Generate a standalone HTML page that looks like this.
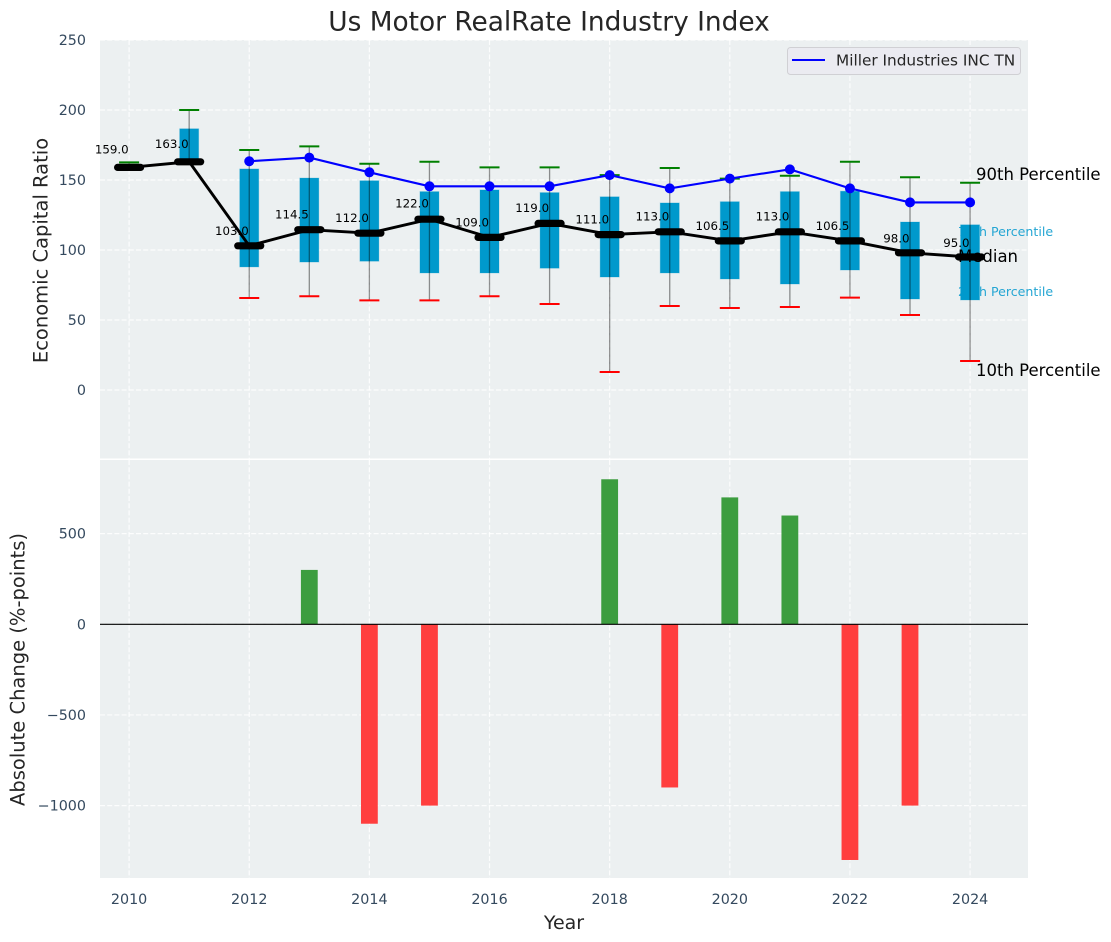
<!DOCTYPE html>
<html lang="en">
<head>
<meta charset="utf-8">
<title>Us Motor RealRate Industry Index</title>
<style>
html,body{margin:0;padding:0;background:#fff;width:1111px;height:942px;overflow:hidden}
svg{display:block}
text{font-family:"DejaVu Sans","Liberation Sans",sans-serif}
</style>
</head>
<body>
<svg id="chart" xmlns="http://www.w3.org/2000/svg" width="1111" height="942" viewBox="0 0 1111 942">
  <rect x="0" y="0" width="1111" height="942" fill="#ffffff"/>
  <rect x="100" y="40" width="928" height="418.5" fill="#ecf0f1"/>
  <rect x="100" y="460" width="928" height="418" fill="#ecf0f1"/>
  <g id="grid"></g>
  <g id="annotations-under">
    <text x="958" y="236" font-size="12.6" fill="#25a6d3">75th Percentile</text>
    <text x="958" y="296" font-size="12.6" fill="#25a6d3">25th Percentile</text>
  </g>
  <g id="boxes"></g>
  <g id="annotations-over">
    <text x="976" y="180" font-size="16.5" fill="#000">90th Percentile</text>
    <text x="976" y="376" font-size="16.5" fill="#000">10th Percentile</text>
    <text x="958" y="262" font-size="16.5" fill="#000">Median</text>
  </g>
  <g id="whiskers"></g>
  <g id="company"></g>
  <g id="median"></g>
  <g id="bars"></g>
  <g id="ticks"></g>

  <text x="549" y="30.5" font-size="26.4" fill="#262626" text-anchor="middle">Us Motor RealRate Industry Index</text>
  <text x="564" y="929" font-size="19" fill="#262626" text-anchor="middle">Year</text>
  <text transform="translate(47.5,250.5) rotate(-90)" font-size="19.5" fill="#262626" text-anchor="middle">Economic Capital Ratio</text>
  <text transform="translate(24.5,669.5) rotate(-90)" font-size="19.5" fill="#262626" text-anchor="middle">Absolute Change (%-points)</text>

  <g>
    <rect x="787.5" y="47.5" width="233" height="27" rx="3" fill="#ebebf1" stroke="#d0d0d4" stroke-width="1"/>
    <line x1="792" y1="60" x2="825" y2="60" stroke="#0000ff" stroke-width="2"/>
    <text x="836" y="65.5" font-size="15.3" fill="#262626">Miller Industries INC TN</text>
  </g>
</svg>
<script>
const years = [2010,2011,2012,2013,2014,2015,2016,2017,2018,2019,2020,2021,2022,2023,2024];
const medians = [159,163,103,114.5,112,122,109,119,111,113,106.5,113,106.5,98,95];
const p90 = [162.6,200,171.4,174,161.6,163,159,159,153.5,158.6,151,153,163,152,148];
const p75 = [160,186.6,157.9,151.4,149.5,141.7,142.9,141,138,133.6,134.5,141.7,142,120,118];
const p25 = [158,163,87.9,91.4,92,83.6,83.6,87,80.7,83.6,79.3,75.7,85.7,65,64.3];
const p10 = [159,163,65.7,67,64,64,67,61.4,12.9,60,58.6,59.3,66,53.6,20.7];
const company = [null,null,163.4,166,155.5,145.5,145.5,145.5,153.5,144,151,157.6,144,134,134];
const changes = [null,null,null,300,-1100,-1000,null,null,800,-900,700,600,-1300,-1000,null];
const xTickLabels = [2010,2012,2014,2016,2018,2020,2022,2024];
const topTickLabels = [0,50,100,150,200,250];
const bottomTickLabels = [-1000,-500,0,500];

const NS = 'http://www.w3.org/2000/svg';
const xScale = v => 129.1 + 60.07 * (v - 2010);
const yTop = v => 390 - 1.4 * v;
const yBottom = v => 624.3 - 0.1813 * v;
const medianLabelY = v => yTop(v) - 1.4 * (6 + 0.04 * v) + 3.5;

function make(parentId, tag, attrs, content) {
  const node = document.createElementNS(NS, tag);
  for (const k in attrs) node.setAttribute(k, attrs[k]);
  if (content !== undefined) node.textContent = content;
  document.getElementById(parentId).appendChild(node);
  return node;
}
const gridStyle = {stroke:'#ffffff','stroke-width':1.2,'stroke-dasharray':'5 2.2','stroke-opacity':0.85};

xTickLabels.forEach(t => {
  const x = xScale(t);
  const a = make('grid','line',{x1:x,x2:x,y1:40,y2:458.5,...gridStyle});
  
  
  const b = make('grid','line',{x1:x,x2:x,y1:460,y2:878,...gridStyle});
  
  
  const l = make('ticks','text',{x:x,y:904,'font-size':14.3,fill:'#34495e','text-anchor':'middle'},String(t));
  
  
});
topTickLabels.forEach(t => {
  const y = yTop(t);
  const a = make('grid','line',{x1:100,x2:1028,y1:y,y2:y,...gridStyle});
  
  
  const l = make('ticks','text',{x:86,y:y+5,'font-size':14.3,fill:'#34495e','text-anchor':'end'},String(t));
  
  
});
bottomTickLabels.forEach(t => {
  const y = yBottom(t);
  const a = make('grid','line',{x1:100,x2:1028,y1:y,y2:y,...gridStyle});
  
  
  const l = make('ticks','text',{x:86,y:y+5,'font-size':14.3,fill:'#34495e','text-anchor':'end'},String(t).replace('-','\u2212'));
  
  
});

years.forEach((yr, i) => {
  const x = xScale(yr);
  const box = make('boxes','rect',{x:x-9.5,y:yTop(p75[i]),width:19,height:yTop(p25[i])-yTop(p75[i]),fill:'#0099cc',stroke:'#0099cc','stroke-opacity':0.25,'stroke-width':1});
  
  
  const w = make('whiskers','line',{x1:x,x2:x,y1:yTop(p90[i]),y2:yTop(p10[i]),stroke:'#000','stroke-opacity':0.42,'stroke-width':1.3});
  
  
  const hi = make('whiskers','line',{x1:x-10,x2:x+10,y1:yTop(p90[i]),y2:yTop(p90[i]),stroke:'#008000','stroke-width':2});
  
  
  const lo = make('whiskers','line',{x1:x-10,x2:x+10,y1:yTop(p10[i]),y2:yTop(p10[i]),stroke:'#ff0000','stroke-width':2});
  
  
});

const companyPoints = years.map((yr,i) => company[i] === null ? null : [xScale(yr), yTop(company[i])]).filter(Boolean);
const companyLine = make('company','polyline',{points:companyPoints.map(p=>p.join(',')).join(' '),fill:'none',stroke:'#0000ff','stroke-width':2.1});


companyPoints.forEach(p => {
  const c = make('company','circle',{cx:p[0],cy:p[1],r:5,fill:'#0000ff'});
  
  
});

const medianLine = make('median','polyline',{points:years.map((yr,i)=>xScale(yr)+','+yTop(medians[i])).join(' '),fill:'none',stroke:'#000','stroke-width':2.9});


years.forEach((yr,i) => {
  const x = xScale(yr), y = yTop(medians[i]);
  const m = make('median','line',{x1:x-11.5,x2:x+11.5,y1:y,y2:y,stroke:'#000','stroke-width':7.2,'stroke-linecap':'round'});
  
  
  const t = make('median','text',{x:x-0.5,y:medianLabelY(medians[i]),'font-size':11.8,fill:'#000','text-anchor':'end'},medians[i].toFixed(1));
  
  
});

years.forEach((yr,i) => {
  if (changes[i] === null) return;
  const x = xScale(yr), y0 = yBottom(0), y1 = yBottom(changes[i]);
  const b = make('bars','rect',{x:x-8.4,y:Math.min(y0,y1),width:16.8,height:Math.abs(y1-y0),fill:changes[i]>0?'#3c9d3f':'#ff3e3e'});
  
  
});
const zero = make('bars','line',{x1:100,x2:1028,y1:yBottom(0),y2:yBottom(0),stroke:'#000','stroke-width':1.2});


</script>
</body>
</html>
